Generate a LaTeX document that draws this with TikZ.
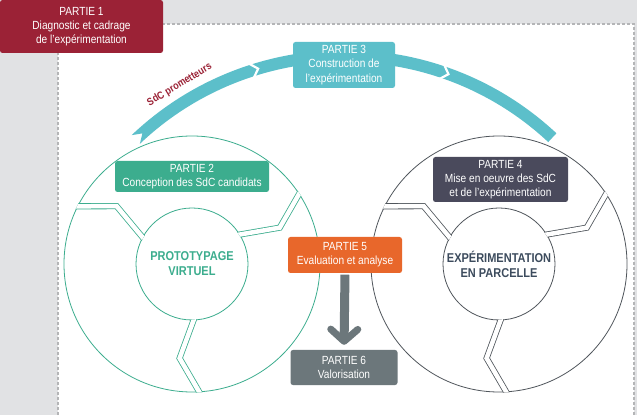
\documentclass[tikz,border=0pt]{standalone}
\usepackage{fontspec}
\setmainfont{Liberation Sans}[FakeStretch=0.86]
\usetikzlibrary{calc,arrows.meta}
\definecolor{bggray}{HTML}{E1E2E4}
\definecolor{dashgray}{HTML}{B4B5B7}
\definecolor{pred}{HTML}{9B2236}
\definecolor{pteal}{HTML}{5CBFCA}
\definecolor{pgreen}{HTML}{3CAD8E}
\definecolor{pslate}{HTML}{4A4A5C}
\definecolor{porange}{HTML}{E8672B}
\definecolor{pgray}{HTML}{6C777B}
\definecolor{ptextslate}{HTML}{3C4B5D}
\definecolor{rgray}{HTML}{50565C}
\begin{document}
\begin{tikzpicture}[x=1pt,y=1pt,
  partbox/.style={rounded corners=2.5pt, inner sep=0pt, align=center, text=white,
    font=\fontsize{11.8}{14.2}\selectfont},
  circtext/.style={align=center, font=\bfseries\fontsize{12.8}{15}\selectfont},
  sepL/.style={draw=pgreen, line width=0.8pt, double=white, double distance=4.5pt},
  sepR/.style={draw=rgray, line width=0.8pt, double=white, double distance=4.5pt},
  ringL/.style={draw=pgreen, line width=0.8pt},
  ringR/.style={draw=rgray, line width=0.8pt},
  gapline/.style={white, line width=2.2pt}]
\useasboundingbox (0,0) rectangle (637,415);
\fill[bggray] (0,0) rectangle (637,415);
\fill[white] (58,0) rectangle (634,391);
\draw[dashgray, dash pattern=on 3pt off 2pt, line width=1.2pt] (58,0) -- (58,391) -- (634,391) -- (634,0);

% big teal arc
\coordinate (ac) at (345,55);
\fill[pteal] ($(ac)+(133.5:310)$) arc[start angle=133.5,end angle=47,radius=310]
  -- ($(ac)+(47:298)$) arc[start angle=47,end angle=133.5,radius=298]
  -- ($(ac)+(131.8:304)$) -- cycle;
\foreach \p in {107,70.5}
  \draw[gapline] ($(ac)+(\p+1.2:313)$) -- ($(ac)+(\p-0.4:304)$) -- ($(ac)+(\p+1.2:295)$);
\node[text=pred, font=\bfseries\fontsize{10.5}{12}\selectfont, rotate=31, inner sep=0pt] (prom) at ($(ac)+(121:321)$) {SdC prometteurs};

% left circle
\coordinate (cL) at (192,151);
\draw[ringL] (cL) circle[radius=128];
\draw[ringL] (cL) circle[radius=56];
\begin{scope}
\clip ($(cL)+(0:128.6)$) arc[start angle=0,end angle=360,radius=128.6]
  -- ($(cL)+(0:55.4)$) arc[start angle=360,end angle=0,radius=55.4] -- cycle;
\foreach \t in {154.5,34.5,274.5}
  \draw[sepL] ($(cL)+(\t:134)$) -- ($(cL)+(\t-12:95)$) -- ($(cL)+(\t:50)$);
\end{scope}
\node[circtext, text=pgreen] (tL) at (cL) {PROTOTYPAGE\\VIRTUEL};

% right circle
\coordinate (cR) at (499,151);
\draw[ringR] (cR) circle[radius=128];
\draw[ringR] (cR) circle[radius=56];
\begin{scope}
\clip ($(cR)+(0:128.6)$) arc[start angle=0,end angle=360,radius=128.6]
  -- ($(cR)+(0:55.4)$) arc[start angle=360,end angle=0,radius=55.4] -- cycle;
\foreach \t in {154.5,34.5,274.5}
  \draw[sepR] ($(cR)+(\t:134)$) -- ($(cR)+(\t-12:95)$) -- ($(cR)+(\t:50)$);
\end{scope}
\node[circtext, text=ptextslate] (tR) at (cR) {EXPÉRIMENTATION\\EN PARCELLE};

% boxes
\node[partbox, fill=pred, minimum width=163pt, minimum height=53pt] (p1) at (81.5,388.5)
  {PARTIE 1\\Diagnostic et cadrage\\de l'expérimentation};
\node[partbox, fill=pteal, minimum width=102pt, minimum height=46pt] (p3) at (344,350)
  {PARTIE 3\\Construction de\\l'expérimentation};
\node[partbox, fill=pgreen, minimum width=154pt, minimum height=31pt] (p2) at (192,238.5)
  {PARTIE 2\\Conception des SdC candidats};
\node[partbox, fill=pslate, minimum width=135pt, minimum height=45pt] (p4) at (500.5,235.5)
  {PARTIE 4\\Mise en oeuvre des SdC\\et de l'expérimentation};
\node[partbox, fill=porange, minimum width=114pt, minimum height=36pt] (p5) at (345,160)
  {PARTIE 5\\Evaluation et analyse};
\node[partbox, fill=pgray, minimum width=107pt, minimum height=35pt] (p6) at (344,47.5)
  {PARTIE 6\\Valorisation};

\draw[pgray, line width=9pt, -{Straight Barb[length=12pt,width=27pt,line width=7pt,round]},
  shorten <=1.5pt, shorten >=5pt] (p5.south) -- (p6.north);
\end{tikzpicture}
\end{document}
